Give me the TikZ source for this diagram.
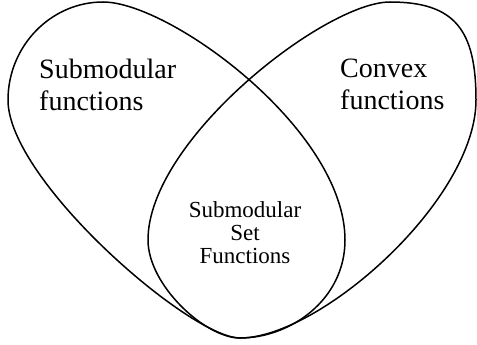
\documentclass[tikz,border=0pt]{standalone}
\usepackage{fontspec}
\setmainfont{Liberation Serif}
\usepackage{amsmath}

\begin{document}
\begin{tikzpicture}[x=1pt,y=-1pt,
  petal/.style={line width=1.5pt,line join=round},
  biglabel/.style={font=\fontsize{28}{32}\selectfont,inner sep=0pt,align=left,anchor=north west},
  smalllabel/.style={font=\fontsize{23}{23}\selectfont,inner sep=0pt,align=center,anchor=north}]
  \useasboundingbox (0,0) rectangle (477,345);
  %Left loop (submodular functions):
  \draw[petal] (240,338) .. controls (190,338) and (8,180) .. (8,100)
    .. controls (8,46) and (51,2) .. (103,2)
    .. controls (170,2) and (345,130) .. (345,240)
    .. controls (345,300) and (290,338) .. (240,338);
  %Right loop (convex functions):
  \draw[petal] (240,338) .. controls (320,338) and (476,200) .. (476,100)
    .. controls (476,30) and (455,2) .. (390,2)
    .. controls (325,2) and (148,140) .. (148,240)
    .. controls (148,285) and (205,338) .. (240,338);
  \node[biglabel] (sub) at (39,59) {Submodular\\functions};
  \node[biglabel] (cvx) at (340,59) {Convex\\functions};
  \node[smalllabel] (set) at (245,201) {Submodular\\Set\\Functions};
\end{tikzpicture}
\end{document}
